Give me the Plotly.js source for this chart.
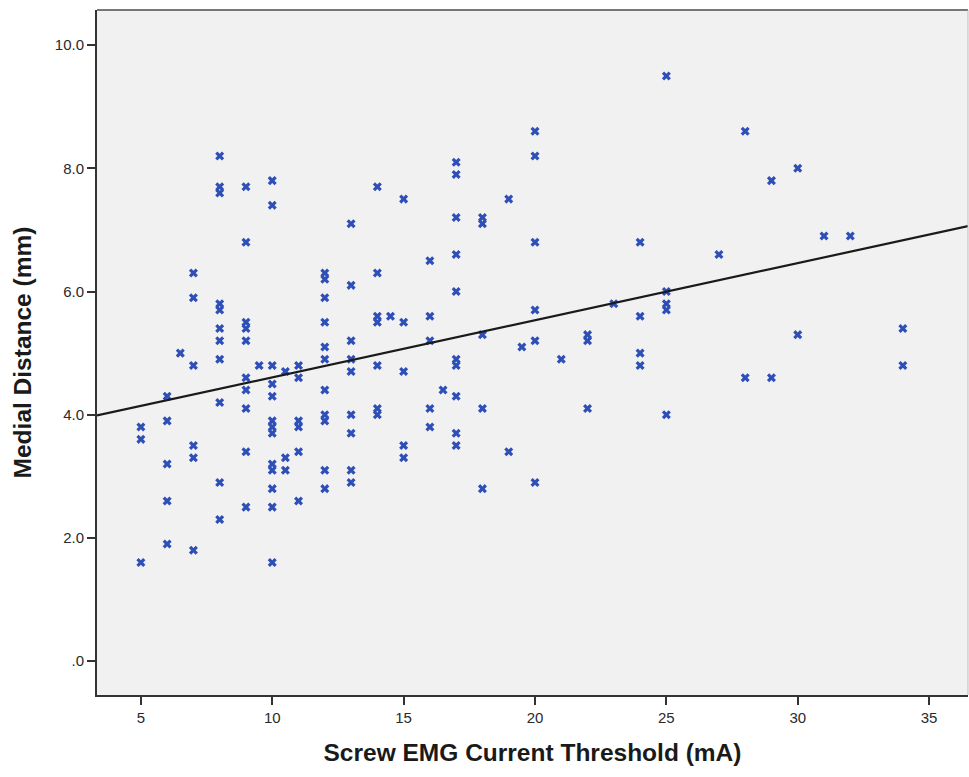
<!DOCTYPE html>
<html>
<head>
<meta charset="utf-8">
<script src="https://cdn.plot.ly/plotly-3.0.1.min.js"></script>
<style>html,body{margin:0;padding:0;background:#fff;}#chart{width:969px;height:777px;}</style>
</head>
<body>
<div id="chart"></div>
<script>
// EMG current threshold (mA)
const thresholdMA = [
  5,5,5,
  6,6,6,6,6,
  6.5,
  7,7,7,7,7,7,
  8,8,8,8,8,8,8,8,8,8,8,
  9,9,9,9,9,9,9,9,9,9,
  9.5,
  10,10,10,10,10,10,10,10,10,10,10,10,10,
  10.5,10.5,10.5,
  11,11,11,11,11,11,
  12,12,12,12,12,12,12,12,12,12,12,
  13,13,13,13,13,13,13,13,13,
  14,14,14,14,14,14,14,
  14.5,
  15,15,15,15,15,
  16,16,16,16,16,
  16.5,
  17,17,17,17,17,17,17,17,17,17,
  18,18,18,18,18,
  19,19,
  19.5,
  20,20,20,20,20,20,
  21,
  22,22,22,
  23,
  24,24,24,24,
  25,25,25,25,25,
  27,
  28,28,
  29,29,
  30,30,
  31,
  32,
  34,34
];
// Medial distance (mm)
const medialMM = [
  3.8,3.6,1.6,
  4.3,3.9,3.2,2.6,1.9,
  5.0,
  6.3,5.9,4.8,3.5,3.3,1.8,
  8.2,7.7,7.6,5.8,5.7,5.4,5.2,4.9,4.2,2.9,2.3,
  7.7,6.8,5.5,5.4,5.2,4.6,4.4,4.1,3.4,2.5,
  4.8,
  7.8,7.4,4.8,4.5,4.3,3.9,3.8,3.7,3.2,3.1,2.8,2.5,1.6,
  4.7,3.3,3.1,
  4.8,4.6,3.9,3.8,3.4,2.6,
  6.3,6.2,5.9,5.5,5.1,4.9,4.4,4.0,3.9,3.1,2.8,
  7.1,6.1,5.2,4.9,4.7,4.0,3.7,3.1,2.9,
  7.7,6.3,5.6,5.5,4.8,4.1,4.0,
  5.6,
  7.5,5.5,4.7,3.5,3.3,
  6.5,5.6,5.2,4.1,3.8,
  4.4,
  8.1,7.9,7.2,6.6,6.0,4.9,4.8,4.3,3.7,3.5,
  7.2,7.1,5.3,4.1,2.8,
  7.5,3.4,
  5.1,
  8.6,8.2,6.8,5.7,5.2,2.9,
  4.9,
  5.3,5.2,4.1,
  5.8,
  6.8,5.6,5.0,4.8,
  9.5,6.0,5.8,5.7,4.0,
  6.6,
  8.6,4.6,
  7.8,4.6,
  8.0,5.3,
  6.9,
  6.9,
  5.4,4.8
];

// Fit line
const fitIntercept = 3.68;
const fitSlope = 0.0927;

const xTickVals = [5,10,15,20,25,30,35];
const xTickText = ["5","10","15","20","25","30","35"];
const yTickVals = [0,2,4,6,8,10];
const yTickText = [".0","2.0","4.0","6.0","8.0","10.0"];

const xRange = [3.33, 36.48];
const yRange = [-0.55, 10.57];

const fitX = xRange.slice();
const fitY = fitX.map(x => fitIntercept + fitSlope * x);

const FONT = "'Liberation Sans', Arial, sans-serif";

const traces = [
  {
    x: thresholdMA, y: medialMM, type: 'scatter', mode: 'markers',
    marker: {symbol: 'x', size: 8, color: '#2f4fb8', line: {width: 0}},
    hoverinfo: 'x+y', showlegend: false
  },
  {
    x: fitX, y: fitY, type: 'scatter', mode: 'lines',
    line: {color: '#1a1a1a', width: 2.2}, showlegend: false, hoverinfo: 'skip'
  }
];

const layout = {
  width: 969, height: 777,
  margin: {l: 97, r: 1, t: 10, b: 82, pad: 0},
  paper_bgcolor: '#ffffff',
  plot_bgcolor: '#f1f1f1',
  showlegend: false,
  font: {family: FONT, color: '#2a2a2a', size: 15},
  xaxis: {
    range: xRange, tickmode: 'array', tickvals: xTickVals, ticktext: xTickText,
    showgrid: false, zeroline: false,
    showline: true, linecolor: '#333333', linewidth: 2, mirror: false,
    ticks: 'outside', ticklen: 8, tickwidth: 2, tickcolor: '#333333',
    tickfont: {family: FONT, size: 15, color: '#2a2a2a'},
    title: {text: '<b>Screw EMG Current Threshold (mA)</b>', font: {family: FONT, size: 24.5, color: '#1a1a1a'}, standoff: 19}
  },
  yaxis: {
    range: yRange, tickmode: 'array', tickvals: yTickVals, ticktext: yTickText,
    showgrid: false, zeroline: false,
    showline: true, linecolor: '#333333', linewidth: 2, mirror: false,
    ticks: 'outside', ticklen: 8, tickwidth: 2, tickcolor: '#333333',
    tickfont: {family: FONT, size: 15, color: '#2a2a2a'},
    title: {text: '<b>Medial Distance (mm)</b>', font: {family: FONT, size: 24.5, color: '#1a1a1a'}, standoff: 16}
  },
  shapes: [
    {type: 'line', xref: 'paper', yref: 'paper', x0: 0, x1: 1, y0: 1, y1: 1, line: {color: '#777777', width: 2}},
    {type: 'line', xref: 'paper', yref: 'paper', x0: 1, x1: 1, y0: 0, y1: 1, line: {color: '#bbbbbb', width: 1}}
  ]
};

Plotly.newPlot('chart', traces, layout, {displayModeBar: false, staticPlot: true});
</script>
</body>
</html>
